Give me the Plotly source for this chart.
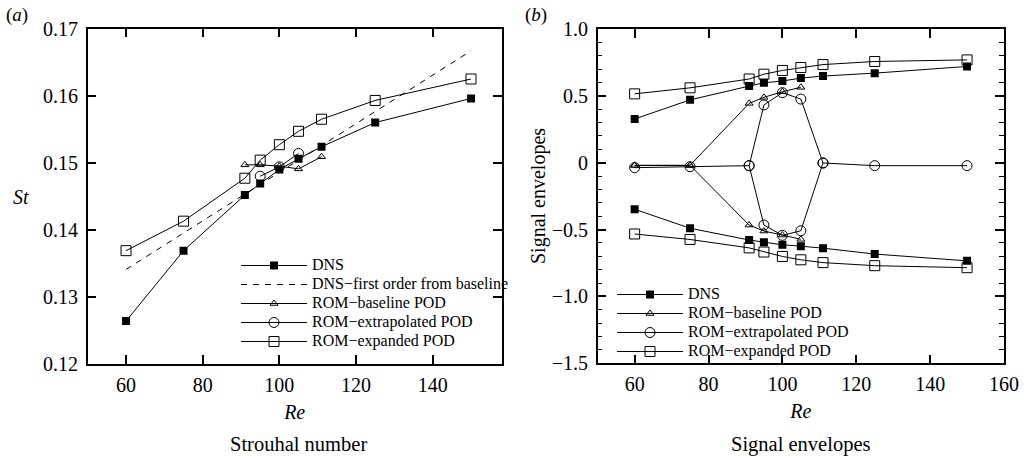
import plotly.graph_objects as go

# ---------------- Panel (a): Strouhal number ----------------
re_a = [60, 75, 91, 95, 100, 105, 111, 125, 150]
st_dns = [0.1264, 0.1369, 0.1452, 0.1469, 0.1490, 0.1506, 0.1524, 0.1560, 0.1596]
re_first = [60, 150]
st_first = [0.1341, 0.1667]
re_base_a = [91, 95, 100, 105, 111]
st_base = [0.1497, 0.1497, 0.1495, 0.1491, 0.1509]
re_extrap_a = [95, 100, 105]
st_extrap = [0.1480, 0.1494, 0.1514]
st_expand = [0.1369, 0.1413, 0.1477, 0.1504, 0.1527, 0.1547, 0.1565, 0.1593, 0.1625]

# ---------------- Panel (b): Signal envelopes ----------------
re_b = [60, 75, 91, 95, 100, 105, 111, 125, 150]
env_dns_up = [0.327, 0.470, 0.573, 0.598, 0.611, 0.633, 0.648, 0.670, 0.720]
env_dns_low = [-0.348, -0.490, -0.578, -0.594, -0.614, -0.624, -0.639, -0.683, -0.734]
re_base_b = [60, 75, 91, 95, 100, 105]
env_base_up = [-0.020, -0.020, 0.444, 0.489, 0.531, 0.564]
env_base_low = [-0.020, -0.020, -0.466, -0.511, -0.541, -0.573]
env_extrap_up = [-0.037, -0.030, -0.022, 0.432, 0.524, 0.476, -0.002, -0.022, -0.022]
re_extrap_low = [91, 95, 100, 105, 111]
env_extrap_low = [-0.022, -0.466, -0.543, -0.509, -0.002]
env_expand_up = [0.515, 0.560, 0.626, 0.662, 0.690, 0.712, 0.734, 0.757, 0.769]
env_expand_low = [-0.533, -0.574, -0.637, -0.668, -0.701, -0.726, -0.747, -0.770, -0.785]

x_ticks_a = [60, 80, 100, 120, 140]
x_ticks_b = [60, 80, 100, 120, 140, 160]
y_ticks_b = [-1.5, -1.0, -0.5, 0, 0.5, 1.0]
y_ticktext_b = ["\u22121.5", "\u22121.0", "\u22120.5", "0", "0.5", "1.0"]

FONT = "Liberation Serif, Times New Roman, DejaVu Serif, serif"
BLACK = "black"


def joined(x1, y1, x2, y2):
    return list(x1) + [None] + list(x2), list(y1) + [None] + list(y2)


def lg(name):
    return '<span style="font-size:16px">' + name + "</span>"


fig = go.Figure()

# ---- panel (a) traces
fig.add_trace(go.Scatter(x=re_a, y=st_dns, mode="lines+markers", name=lg("DNS"),
                         line=dict(color=BLACK, width=1),
                         marker=dict(symbol="square", size=8, color=BLACK),
                         xaxis="x", yaxis="y", legend="legend"))
fig.add_trace(go.Scatter(x=re_first, y=st_first, mode="lines",
                         name=lg("DNS\u2212first order from baseline"),
                         line=dict(color=BLACK, width=1, dash="6px,6px"),
                         xaxis="x", yaxis="y", legend="legend"))
fig.add_trace(go.Scatter(x=re_base_a, y=st_base, mode="lines+markers",
                         name=lg("ROM\u2212baseline POD"),
                         line=dict(color=BLACK, width=1),
                         marker=dict(symbol="triangle-up-open", size=7, color=BLACK,
                                     line=dict(width=1, color=BLACK)),
                         xaxis="x", yaxis="y", legend="legend"))
fig.add_trace(go.Scatter(x=re_extrap_a, y=st_extrap, mode="lines+markers",
                         name=lg("ROM\u2212extrapolated POD"),
                         line=dict(color=BLACK, width=1),
                         marker=dict(symbol="circle-open", size=10, color=BLACK,
                                     line=dict(width=1, color=BLACK)),
                         xaxis="x", yaxis="y", legend="legend"))
fig.add_trace(go.Scatter(x=re_a, y=st_expand, mode="lines+markers",
                         name=lg("ROM\u2212expanded POD"),
                         line=dict(color=BLACK, width=1),
                         marker=dict(symbol="square-open", size=10, color=BLACK,
                                     line=dict(width=1, color=BLACK)),
                         xaxis="x", yaxis="y", legend="legend"))

# ---- panel (b) traces
xs, ys = joined(re_b, env_dns_up, re_b, env_dns_low)
fig.add_trace(go.Scatter(x=xs, y=ys, mode="lines+markers", name=lg("DNS"),
                         line=dict(color=BLACK, width=1),
                         marker=dict(symbol="square", size=8, color=BLACK),
                         xaxis="x2", yaxis="y2", legend="legend2"))
xs, ys = joined(re_base_b, env_base_up, re_base_b, env_base_low)
fig.add_trace(go.Scatter(x=xs, y=ys, mode="lines+markers", name=lg("ROM\u2212baseline POD"),
                         line=dict(color=BLACK, width=1),
                         marker=dict(symbol="triangle-up-open", size=7, color=BLACK,
                                     line=dict(width=1, color=BLACK)),
                         xaxis="x2", yaxis="y2", legend="legend2"))
xs, ys = joined(re_b, env_extrap_up, re_extrap_low, env_extrap_low)
fig.add_trace(go.Scatter(x=xs, y=ys, mode="lines+markers", name=lg("ROM\u2212extrapolated POD"),
                         line=dict(color=BLACK, width=1),
                         marker=dict(symbol="circle-open", size=10, color=BLACK,
                                     line=dict(width=1, color=BLACK)),
                         xaxis="x2", yaxis="y2", legend="legend2"))
xs, ys = joined(re_b, env_expand_up, re_b, env_expand_low)
fig.add_trace(go.Scatter(x=xs, y=ys, mode="lines+markers", name=lg("ROM\u2212expanded POD"),
                         line=dict(color=BLACK, width=1),
                         marker=dict(symbol="square-open", size=10, color=BLACK,
                                     line=dict(width=1, color=BLACK)),
                         xaxis="x2", yaxis="y2", legend="legend2"))

W, H = 1027, 456

axis_common = dict(showline=True, linecolor=BLACK, linewidth=1.5, mirror="ticks",
                   ticks="inside", ticklen=9, tickwidth=1.5, tickcolor=BLACK,
                   showgrid=False, zeroline=False, automargin=False,
                   tickfont=dict(family=FONT, size=20, color=BLACK))

fig.update_layout(
    width=W, height=H,
    margin=dict(l=0, r=0, t=0, b=0, pad=0),
    paper_bgcolor="white", plot_bgcolor="white",
    font=dict(family=FONT, color=BLACK),
    xaxis=dict(axis_common, domain=[87.7 / W, 501.7 / W], range=[50, 158],
               tickmode="array", tickvals=x_ticks_a, anchor="y",
               ticklabelstandoff=2,
               title=dict(text="<i>Re</i>", font=dict(family=FONT, size=20), standoff=10)),
    yaxis=dict(axis_common, domain=[1 - 364 / H, 1 - 28.7 / H], range=[0.12, 0.17],
               tickmode="linear", tick0=0.12, dtick=0.01, tickformat=".2f", anchor="x",
               ticklabelstandoff=4),
    xaxis2=dict(axis_common, domain=[597.7 / W, 1004 / W], range=[50, 160],
                tickmode="array", tickvals=x_ticks_b, anchor="y2",
                ticklabelstandoff=2,
                title=dict(text="<i>Re</i>", font=dict(family=FONT, size=20), standoff=10)),
    yaxis2=dict(axis_common, domain=[1 - 363.3 / H, 1 - 29 / H], range=[-1.5, 1.0],
                tickmode="array", tickvals=y_ticks_b, ticktext=y_ticktext_b, anchor="x2",
                ticklabelstandoff=4,
                minor=dict(tickmode="linear", tick0=0, dtick=0.1, ticks="inside",
                           ticklen=5, tickwidth=1, tickcolor=BLACK, showgrid=False)),
    legend=dict(x=236 / W, y=1 - 251 / H, xanchor="left", yanchor="top",
                bgcolor="rgba(0,0,0,0)", borderwidth=0, itemwidth=66,
                font=dict(family=FONT, size=12, color=BLACK), tracegroupgap=0),
    legend2=dict(x=612 / W, y=1 - 280 / H, xanchor="left", yanchor="top",
                 bgcolor="rgba(0,0,0,0)", borderwidth=0, itemwidth=66,
                 font=dict(family=FONT, size=12, color=BLACK), tracegroupgap=0),
    annotations=[
        dict(text="(<i>a</i>)", x=4 / W, y=1 - 15 / H, xref="paper", yref="paper",
             xanchor="left", yanchor="middle", showarrow=False,
             font=dict(family=FONT, size=19, color=BLACK)),
        dict(text="(<i>b</i>)", x=523 / W, y=1 - 15 / H, xref="paper", yref="paper",
             xanchor="left", yanchor="middle", showarrow=False,
             font=dict(family=FONT, size=19, color=BLACK)),
        dict(text="<i>St</i>", x=21 / W, y=1 - 197 / H, xref="paper", yref="paper",
             xanchor="center", yanchor="middle", showarrow=False,
             font=dict(family=FONT, size=20, color=BLACK)),
        dict(text="Signal envelopes", x=538 / W, y=1 - 196 / H, xref="paper", yref="paper",
             xanchor="center", yanchor="middle", showarrow=False, textangle=-90,
             font=dict(family=FONT, size=20, color=BLACK)),
        dict(text="Strouhal number", x=298 / W, y=1 - 444 / H, xref="paper", yref="paper",
             xanchor="center", yanchor="middle", showarrow=False,
             font=dict(family=FONT, size=20.5, color=BLACK)),
        dict(text="Signal envelopes", x=801 / W, y=1 - 444 / H, xref="paper", yref="paper",
             xanchor="center", yanchor="middle", showarrow=False,
             font=dict(family=FONT, size=20.5, color=BLACK)),
    ],
)

fig.write_html("out.html")
